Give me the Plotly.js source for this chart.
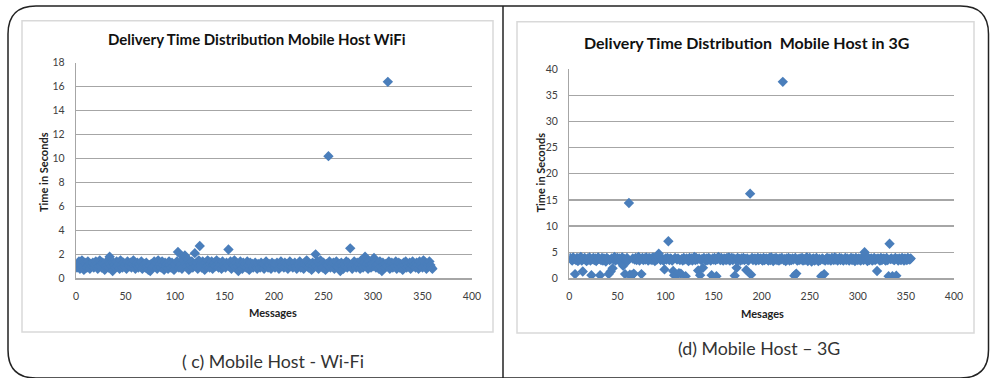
<!DOCTYPE html>
<html>
<head>
<meta charset="utf-8">
<script src="https://cdn.plot.ly/plotly-3.0.1.min.js"></script>
<style>html,body{margin:0;padding:0;background:#fff;}#chart{width:990px;height:378px;}</style>
</head>
<body>
<div id="chart"></div>
<script>
// ---- Data ----
const wifiTitle = "Delivery Time Distribution Mobile Host WiFi";
const g3Title = "Delivery Time Distribution  Mobile Host in 3G";
const wifiXLabel = "Messages";
const g3XLabel = "Mesages";
const yLabel = "Time in Seconds";
const wifiCaption = "( c) Mobile Host - Wi-Fi";
const g3Caption = "(d) Mobile Host \u2013 3G";
const xTicks = [0, 50, 100, 150, 200, 250, 300, 350, 400];
const wifiYTicks = [0, 2, 4, 6, 8, 10, 12, 14, 16, 18];
const g3YTicks = [0, 5, 10, 15, 20, 25, 30, 35, 40];

const wifiTimes = [
0.9,1.2,1.4,0.8,1.1,1.5,1.0,0.7,1.3,1.2,0.9,1.4,1.1,0.8,1.2,1.0,1.3,0.9,1.1,1.4,
1.2,0.8,1.0,1.5,1.1,0.9,1.3,1.2,0.7,1.0,1.4,1.1,0.9,1.8,1.2,1.0,0.6,1.3,1.1,0.9,
1.4,1.0,1.2,0.8,1.5,1.1,0.9,1.3,1.0,1.2,0.8,1.4,1.1,1.0,1.3,0.9,1.2,1.5,1.0,0.8,
1.1,1.3,0.9,1.2,1.0,1.4,0.8,1.1,1.2,0.9,1.3,1.0,0.7,1.1,0.6,1.2,0.9,1.0,1.4,1.1,
1.3,0.8,1.5,1.0,1.2,0.9,1.4,1.1,0.7,1.3,1.0,1.2,0.8,1.4,1.1,0.9,1.3,1.0,0.7,1.2,
1.0,1.4,2.2,0.9,1.3,1.1,0.8,1.8,1.5,1.9,1.2,1.0,1.6,0.7,1.3,1.1,1.4,0.9,1.2,2.1,
1.0,1.3,0.8,1.5,2.7,1.1,0.9,1.4,1.2,0.7,1.3,1.0,1.5,1.1,0.9,1.2,1.4,0.8,1.1,1.3,
1.0,1.5,1.2,0.9,1.3,1.1,0.8,1.4,1.0,1.2,0.9,1.3,1.1,2.4,1.0,1.4,0.8,1.2,1.1,1.5,
0.9,1.3,1.0,0.6,1.2,1.4,1.1,0.8,1.3,1.0,1.2,0.9,1.4,1.1,0.7,1.3,1.0,1.2,0.9,1.1,
1.3,1.0,0.8,1.2,1.1,0.9,1.3,1.0,1.2,0.8,1.1,1.4,1.0,0.9,1.2,1.1,0.8,1.3,1.0,1.2,
0.9,1.1,1.3,1.0,0.8,1.2,1.4,1.0,1.1,0.9,1.3,1.0,1.2,0.8,1.1,1.4,1.0,1.2,0.9,1.1,
1.3,1.0,0.8,1.2,1.1,1.4,0.9,1.0,1.2,0.8,1.3,1.1,1.5,1.0,0.9,1.2,1.1,0.7,1.3,1.0,
1.2,2.0,1.0,1.4,0.8,1.2,1.5,1.1,0.9,1.3,1.0,0.7,1.2,1.1,10.2,1.4,0.9,1.2,1.0,1.3,
0.8,1.1,1.4,1.0,0.9,1.2,0.6,1.3,1.1,0.8,1.2,1.0,1.4,0.9,1.3,1.1,2.5,1.0,0.8,1.2,
1.4,1.1,0.9,1.3,1.0,1.2,0.8,1.5,1.1,0.9,1.3,1.8,1.0,1.2,0.8,1.4,1.1,0.9,1.2,1.0,
1.7,1.3,0.9,1.1,1.2,0.8,1.4,1.0,0.6,1.3,1.1,0.9,1.2,1.0,16.4,1.4,0.8,1.1,1.3,0.9,
1.2,1.0,1.4,0.8,1.1,1.3,0.9,1.2,1.0,0.7,1.3,1.1,1.4,0.9,1.2,1.0,1.3,0.8,1.1,1.4,
1.0,1.2,0.9,1.3,1.1,0.8,1.4,1.0,1.2,0.9,1.5,1.1,1.3,0.8,1.2,1.0,1.4,1.1,0.9,0.8
];

const g3Times = [
3.9,3.6,3.4,4.0,3.7,0.8,3.5,3.9,3.3,3.8,3.6,4.1,3.4,1.3,3.7,3.9,3.5,3.3,3.8,3.6,
4.0,3.4,0.6,3.7,3.9,3.5,3.8,3.3,3.6,4.0,3.7,0.6,3.5,3.9,3.4,3.8,3.6,3.2,3.9,3.7,
0.8,3.5,1.3,3.8,1.9,3.6,4.1,3.4,3.7,3.9,3.5,3.8,3.3,3.6,4.0,2.4,3.7,0.8,3.5,3.9,
3.4,14.4,0.7,0.4,0.6,3.8,0.9,3.6,3.9,3.5,3.8,4.1,3.4,3.7,0.8,3.9,3.5,3.8,3.6,4.0,
3.7,3.4,3.9,3.6,3.8,3.5,4.0,3.7,3.3,3.9,3.6,4.2,4.7,3.8,3.5,3.9,3.6,3.4,1.7,3.8,
3.6,3.9,7.1,3.5,3.8,3.7,3.4,1.4,0.6,3.9,0.5,3.6,3.8,1.0,3.5,0.9,3.7,3.4,3.9,3.6,
0.4,3.8,3.5,3.3,3.9,3.6,3.8,3.4,3.7,4.1,3.5,3.9,3.6,1.5,3.8,0.6,3.5,3.7,2.0,3.9,
3.6,3.4,3.8,3.5,3.9,3.7,3.4,0.6,3.8,3.6,3.9,3.5,0.4,3.7,4.1,3.8,3.5,3.9,3.6,3.4,
3.8,3.7,3.5,3.9,3.6,4.0,3.4,3.7,3.9,3.5,3.8,0.5,3.6,2.0,3.9,3.5,3.7,3.4,3.8,3.6,
3.9,3.5,3.7,1.6,3.8,3.4,3.6,16.2,0.7,3.9,3.5,3.7,3.8,3.4,3.6,3.9,3.5,3.7,3.8,3.6,
3.4,3.9,3.5,3.7,3.8,3.6,3.4,3.9,3.5,4.0,3.7,3.3,3.8,3.6,3.9,3.5,3.7,3.4,3.8,3.6,
3.9,37.6,3.5,3.7,3.3,3.8,3.6,3.9,3.4,3.7,3.5,3.8,3.6,0.5,3.9,0.9,3.4,3.7,3.5,3.8,
3.6,3.9,3.4,3.7,3.5,3.8,4.0,3.3,3.6,3.9,3.5,3.2,3.7,3.8,3.4,3.6,3.9,3.5,3.3,3.7,
3.5,0.4,3.8,3.6,0.8,3.4,3.7,3.9,3.5,3.8,3.6,3.4,3.9,3.7,3.5,4.0,3.6,3.8,3.4,3.7,
3.9,3.5,3.8,3.6,3.4,3.7,3.9,3.5,3.8,3.6,3.4,3.7,3.9,3.5,3.8,3.6,3.3,3.9,3.7,3.5,
3.8,3.6,3.4,3.9,3.7,3.5,5.0,3.8,3.6,3.3,3.9,3.5,3.7,3.8,3.4,3.6,3.9,3.5,3.7,1.4,
3.8,3.6,3.4,3.9,3.5,3.7,3.8,3.6,3.4,3.9,3.5,0.4,6.6,3.7,3.8,0.4,3.6,3.5,3.9,0.5,
3.7,3.4,3.8,3.6,3.5,3.9,3.7,3.4,3.8,3.6,3.5,3.9,3.7,3.6,3.8
];

// message numbers (1..N)
const wifiMsgs = wifiTimes.map((_, i) => i + 1);
const g3Msgs = g3Times.map((_, i) => i + 1);

// ---- Layout helpers ----
const W = 990, H = 378;
const px = x => x / W;
const py = y => 1 - y / H;
const FONT = 'Lato, "Open Sans", sans-serif';
const markerColor = '#4A7EBB';
const gridColor = '#A6A6A6';

const marker = {symbol: 'diamond', size: 8, color: markerColor};

const traces = [
  {x: wifiMsgs, y: wifiTimes, type: 'scatter', mode: 'markers', marker: marker, xaxis: 'x', yaxis: 'y', hoverinfo: 'x+y'},
  {x: g3Msgs, y: g3Times, type: 'scatter', mode: 'markers', marker: marker, xaxis: 'x2', yaxis: 'y2', hoverinfo: 'x+y'}
];

function xAxis(domain, anchor) {
  return {
    domain: domain, anchor: anchor, range: [0, 400],
    tickmode: 'array', tickvals: xTicks, ticktext: xTicks.map(String),
    showgrid: false, zeroline: false, showline: true, linecolor: gridColor, linewidth: 1.3,
    ticks: '', ticklabelstandoff: 8,
    tickfont: {family: FONT, size: 10.5, color: '#404040'}
  };
}
function yAxis(domain, anchor, maxV, ticks) {
  return {
    domain: domain, anchor: anchor, range: [0, maxV],
    tickmode: 'array', tickvals: ticks, ticktext: ticks.map(String),
    showgrid: true, gridcolor: gridColor, gridwidth: 1.3,
    zeroline: false, showline: true, linecolor: gridColor, linewidth: 1.3,
    ticks: '', ticklabelstandoff: 8,
    tickfont: {family: FONT, size: 10.5, color: '#404040'}
  };
}

function roundRect(x0, y0, x1, y1, r) {
  return `M ${x0+r} ${y0} L ${x1-r} ${y0} Q ${x1} ${y0} ${x1} ${y0+r} L ${x1} ${y1-r} Q ${x1} ${y1} ${x1-r} ${y1} L ${x0+r} ${y1} Q ${x0} ${y1} ${x0} ${y1-r} L ${x0} ${y0+r} Q ${x0} ${y0} ${x0+r} ${y0} Z`;
}

const shapes = [
  // chart boxes
  {type: 'rect', xref: 'paper', yref: 'paper', x0: px(22), x1: px(493), y0: py(332), y1: py(20.7), line: {color: '#D9D9D9', width: 1.5}, layer: 'below'},
  {type: 'rect', xref: 'paper', yref: 'paper', x0: px(517), x1: px(974), y0: py(333), y1: py(21.7), line: {color: '#D9D9D9', width: 1.5}, layer: 'below'},
  // divider
  {type: 'line', xref: 'paper', yref: 'paper', x0: px(503), x1: px(503), y0: py(378), y1: py(6), line: {color: '#222', width: 1.5}}
];

const annotations = [
  {text: '<b>' + wifiTitle + '</b>', x: px(257), y: py(39), xref: 'paper', yref: 'paper', showarrow: false, xanchor: 'center', yanchor: 'middle', font: {family: FONT, size: 15, color: '#111'}},
  {text: '<b>' + g3Title + '</b>', x: px(746), y: py(42.7), xref: 'paper', yref: 'paper', showarrow: false, xanchor: 'center', yanchor: 'middle', font: {family: FONT, size: 16, color: '#111'}},
  {text: '<b>' + yLabel + '</b>', x: px(43), y: py(172), xref: 'paper', yref: 'paper', showarrow: false, textangle: -90, xanchor: 'center', yanchor: 'middle', font: {family: FONT, size: 11, color: '#222'}},
  {text: '<b>' + yLabel + '</b>', x: px(539.5), y: py(173), xref: 'paper', yref: 'paper', showarrow: false, textangle: -90, xanchor: 'center', yanchor: 'middle', font: {family: FONT, size: 11, color: '#222'}},
  {text: '<b>' + wifiXLabel + '</b>', x: px(273), y: py(312), xref: 'paper', yref: 'paper', showarrow: false, xanchor: 'center', yanchor: 'middle', font: {family: FONT, size: 11, color: '#222'}},
  {text: '<b>' + g3XLabel + '</b>', x: px(762), y: py(313), xref: 'paper', yref: 'paper', showarrow: false, xanchor: 'center', yanchor: 'middle', font: {family: FONT, size: 11, color: '#222'}},
  {text: wifiCaption, x: px(273), y: py(361), xref: 'paper', yref: 'paper', showarrow: false, xanchor: 'center', yanchor: 'middle', font: {family: FONT, size: 17.8, color: '#333'}},
  {text: g3Caption, x: px(759), y: py(348), xref: 'paper', yref: 'paper', showarrow: false, xanchor: 'center', yanchor: 'middle', font: {family: FONT, size: 17.8, color: '#333'}}
];

const layout = {
  width: W, height: H,
  margin: {l: 0, r: 0, t: 0, b: 0},
  paper_bgcolor: '#fff', plot_bgcolor: 'rgba(0,0,0,0)',
  showlegend: false,
  xaxis: xAxis([px(76), px(472)], 'y'),
  yaxis: yAxis([py(278.3), py(62.7)], 'x', 18, wifiYTicks),
  xaxis2: xAxis([px(569.3), px(954)], 'y2'),
  yaxis2: yAxis([py(278.3), py(69.3)], 'x2', 40, g3YTicks),
  shapes: shapes,
  annotations: annotations
};

Plotly.newPlot('chart', traces, layout, {displayModeBar: false, staticPlot: true}).then(() => {
  // outer rounded frame drawn in pixel space via an SVG overlay
  const svg = document.querySelector('#chart .main-svg');
  const ns = 'http://www.w3.org/2000/svg';
  const p = document.createElementNS(ns, 'path');
  p.setAttribute('d', roundRect(8, 6, 988.5, 378, 28));
  p.setAttribute('fill', 'none');
  p.setAttribute('stroke', '#222');
  p.setAttribute('stroke-width', '1.5');
  svg.appendChild(p);
});
</script>
</body>
</html>
